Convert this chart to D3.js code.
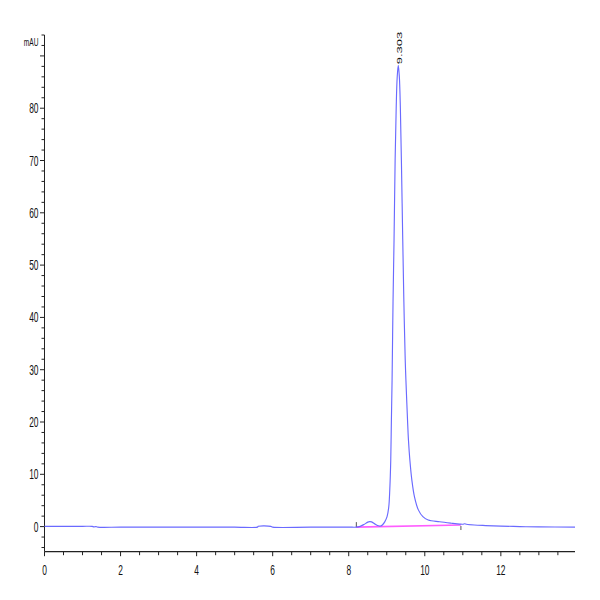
<!DOCTYPE html>
<html><head><meta charset="utf-8">
<script src="https://cdn.jsdelivr.net/npm/d3@7"></script>
<style>body{margin:0;background:#fff}svg{display:block}</style>
</head><body>
<script>
// Trace data (time in min, absorbance in mAU)
const traceTime = [0,0.5,1.0,1.25,1.3,1.35,1.4,2,3,4,5,5.6,5.62,5.95,6.0,7,8,8.2,8.3,8.4,8.5,8.55,8.6,8.7,8.78,8.84,8.89,8.947,9.008,9.053,9.079,9.105,9.122,9.14,9.165,9.192,9.22,9.248,9.275,9.303,9.331,9.358,9.385,9.42,9.45,9.485,9.504,9.546,9.571,9.608,9.66,9.729,9.834,9.95,10.09,10.39,10.7,10.92,11.0,11.05,11.1,11.3,11.6,12.0,12.5,13,13.95];
const traceValue = [0.05,0.05,0.05,0.05,-0.05,0.0,-0.1,-0.1,-0.1,-0.1,-0.1,-0.1,0.05,0.05,-0.1,-0.1,-0.1,-0.1,0.05,0.4,0.85,0.95,0.9,0.45,0.15,0.12,0.35,0.9,1.9,3.8,7,12.7,20.4,28,43,55,70,80,86,88.2,86,80,70,55,43,32,28,20.4,16.5,12.7,8.9,5.7,3.15,1.9,1.25,0.92,0.65,0.48,0.45,0.55,0.45,0.3,0.2,0.1,0.0,-0.05,-0.1];
// Integration baseline
const baseTime = [8.2, 10.95];
const baseValue = [-0.1, 0.3];
// Peak annotation
const peakTimes = [9.303];
const peakValues = [88.2];
const peakLabels = ["9.303"];
// Axis tick labels
const xTickLabels = [0,2,4,6,8,10,12];
const yTickLabels = [0,10,20,30,40,50,60,70,80];
const xUnit = "min";
const yUnit = "mAU";

const W = 600, H = 600;
const svg = d3.select("body").append("svg").attr("width", W).attr("height", H);
const x = d3.scaleLinear().domain([0, 13.95]).range([44.5, 575]);
const y = d3.scaleLinear().domain([-4.8, 94]).range([551.7, 35]);
const SX = 0.6; // horizontal squeeze of text

// Y axis
const ax = 44.5;
svg.append("line").attr("x1", ax).attr("x2", ax).attr("y1", 35).attr("y2", 551.7)
  .attr("stroke", "#222").attr("stroke-width", 1);
const yMinor = d3.range(-4, 95, 2);
svg.selectAll(".ytick").data(yMinor).join("line")
  .attr("x1", d => d % 10 === 0 ? ax - 4.5 : ax - 3).attr("x2", ax)
  .attr("y1", d => y(d)).attr("y2", d => y(d))
  .attr("stroke", "#222").attr("stroke-width", 1);
svg.selectAll(".ylab").data(yTickLabels).join("text")
  .attr("transform", d => `translate(38.5,${y(d) + 5}) scale(${SX},1)`)
  .attr("text-anchor", "end").attr("font-family", "Liberation Sans, Arial, sans-serif")
  .attr("font-size", 14).attr("fill", "#111").text(d => d);
svg.append("text").attr("transform", `translate(38.5,46) scale(${SX},1)`)
  .attr("text-anchor", "end").attr("font-family", "Liberation Sans, Arial, sans-serif")
  .attr("font-size", 11).attr("fill", "#111").text(yUnit);

// X axis
const ay = 551.7;
svg.append("line").attr("x1", ax).attr("x2", 575).attr("y1", ay).attr("y2", ay)
  .attr("stroke", "#222").attr("stroke-width", 1.2);
const xMinor = d3.range(0, 14, 0.5);
svg.selectAll(".xtick").data(xMinor).join("line")
  .attr("x1", d => x(d)).attr("x2", d => x(d))
  .attr("y1", ay).attr("y2", d => d % 2 === 0 ? ay + 4.5 : ay + 3.5)
  .attr("stroke", "#222").attr("stroke-width", 1);
svg.selectAll(".xlab").data(xTickLabels).join("text")
  .attr("transform", d => `translate(${x(d)},575) scale(${SX},1)`)
  .attr("text-anchor", "middle").attr("font-family", "Liberation Sans, Arial, sans-serif")
  .attr("font-size", 14).attr("fill", "#111").text(d => d);
svg.append("clipPath").attr("id", "unitclip").append("rect")
  .attr("x", 500).attr("y", 550).attr("width", 75.5).attr("height", 40);
svg.append("text").attr("clip-path", "url(#unitclip)")
  .attr("transform", `translate(565,573) scale(${SX},1)`)
  .attr("font-family", "Liberation Sans, Arial, sans-serif")
  .attr("font-size", 11.5).attr("fill", "#111").text(xUnit);

// Integration baseline
const baseData = baseTime.map((t, i) => [t, baseValue[i]]);
svg.append("path").datum(baseData)
  .attr("d", d3.line().x(d => x(d[0])).y(d => y(d[1])))
  .attr("fill", "none").attr("stroke", "#ff40ff").attr("stroke-width", 1.6).attr("opacity", 0.85);
// integration markers
svg.append("line").attr("x1", x(baseTime[0])).attr("x2", x(baseTime[0]))
  .attr("y1", y(baseValue[0]) - 5).attr("y2", y(baseValue[0])).attr("stroke", "#555").attr("stroke-width", 1);
svg.append("line").attr("x1", x(baseTime[1])).attr("x2", x(baseTime[1]))
  .attr("y1", y(baseValue[1]) + 1).attr("y2", y(baseValue[1]) + 5).attr("stroke", "#555").attr("stroke-width", 1);

// Trace
const traceData = traceTime.map((t, i) => [t, traceValue[i]]);
svg.append("path").datum(traceData)
  .attr("d", d3.line().x(d => x(d[0])).y(d => y(d[1])).curve(d3.curveCatmullRom.alpha(0.5)))
  .attr("fill", "none").attr("stroke", "#6a6aff").attr("stroke-width", 1.15);

// Peak label
svg.selectAll(".plab").data(peakLabels).join("text")
  .attr("transform", (d, i) => `translate(${x(peakTimes[i]) + 4},${y(peakValues[i]) - 1}) scale(${SX},1) rotate(-90)`)
  .attr("font-family", "Liberation Sans, Arial, sans-serif")
  .attr("font-size", 13).attr("fill", "#111").text(d => d);
</script>
</body></html>
